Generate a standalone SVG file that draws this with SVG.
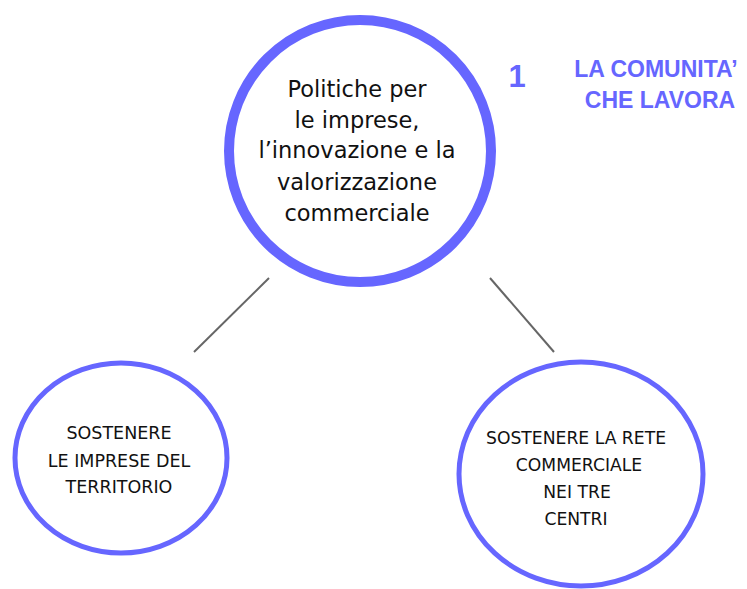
<svg xmlns="http://www.w3.org/2000/svg" width="747" height="589" viewBox="0 0 747 589">
<style>
.node{fill:#fff;stroke:#6666FF}
.t{font-family:"DejaVu Sans","Liberation Sans",sans-serif;fill:#111;text-anchor:middle}
.big{font-size:22.5px}
.title{font-family:"Liberation Sans",Arial,sans-serif;font-weight:bold;fill:#6666FF;text-anchor:middle}
.conn{stroke:#666;stroke-width:2;fill:none}
</style>
<rect width="747" height="589" fill="#fff"/>
<g id="connectors">
<line class="conn" x1="269" y1="278" x2="194" y2="352"/>
<line class="conn" x1="490" y1="278" x2="554" y2="352"/>
</g>
<g id="main">
<circle class="node" cx="360" cy="151" r="131" stroke-width="10"/>
<text class="t big" x="357" y="97">Politiche per</text>
<text class="t big" x="357" y="128">le imprese,</text>
<text class="t big" x="357" y="158">l’innovazione e la</text>
<text class="t big" x="357" y="190">valorizzazione</text>
<text class="t big" x="357" y="221">commerciale</text>
</g>
<g id="title">
<text class="title" x="517" y="87" font-size="31">1</text>
<text class="title" x="656" y="77" font-size="23">LA COMUNITA’</text>
<text class="title" x="660" y="108" font-size="23">CHE LAVORA</text>
</g>
<g id="left">
<ellipse class="node" cx="121" cy="458" rx="106" ry="95" stroke-width="5"/>
<text class="t" font-size="17.5" x="119" y="439">SOSTENERE</text>
<text class="t" font-size="17.5" x="119" y="467">LE IMPRESE DEL</text>
<text class="t" font-size="17.5" x="119" y="493">TERRITORIO</text>
</g>
<g id="right">
<ellipse class="node" cx="581" cy="474" rx="122" ry="112" stroke-width="5"/>
<text class="t" font-size="17.2" x="576" y="444">SOSTENERE LA RETE</text>
<text class="t" font-size="17.2" x="579" y="471">COMMERCIALE</text>
<text class="t" font-size="17.2" x="577" y="498">NEI TRE</text>
<text class="t" font-size="17.2" x="576" y="525">CENTRI</text>
</g>
</svg>
